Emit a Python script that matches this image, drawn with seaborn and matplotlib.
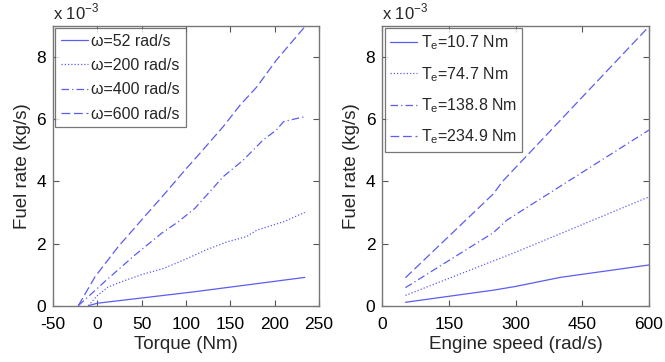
import numpy as np
import pandas as pd
import matplotlib
matplotlib.use("Agg")
import matplotlib.pyplot as plt
import seaborn as sns

# ---------------- data (fuel rate in units of 1e-3 kg/s) ----------------
# Left panel: fuel rate vs torque at constant speed
torque_w52 = [-10, 0, 110, 234]
fuel_w52 = [0.0, 0.08, 0.45, 0.91]

torque_w200 = [-10, -1, 12, 30, 50, 75, 100, 123, 146, 168, 180, 210, 234]
fuel_w200 = [0.0, 0.3, 0.6, 0.8, 1.0, 1.2, 1.5, 1.8, 2.05, 2.22, 2.43, 2.7, 3.0]

torque_w400 = [-21.5, 10.5, 42.4, 72.5, 91.3, 110, 142, 164.5, 187, 202, 210, 234]
fuel_w400 = [0.0, 0.83, 1.63, 2.33, 2.7, 3.13, 4.15, 4.68, 5.33, 5.65, 5.92, 6.08]

torque_w600 = [-21.5, -2.6, 23.6, 50, 76.3, 98.8, 115.7, 142, 161, 180, 202, 234]
fuel_w600 = [0.0, 0.93, 1.9, 2.76, 3.61, 4.36, 4.9, 5.76, 6.45, 7.04, 7.9, 8.97]

left_labels = ["ω=52 rad/s", "ω=200 rad/s", "ω=400 rad/s", "ω=600 rad/s"]

# Right panel: fuel rate vs engine speed at constant torque
speed_t1 = [52, 250, 300, 400, 600]
fuel_t1 = [0.11, 0.5, 0.62, 0.91, 1.31]

speed_t2 = [52, 300, 600]
fuel_t2 = [0.33, 1.72, 3.5]

speed_t3 = [52, 250, 280, 600]
fuel_t3 = [0.58, 2.35, 2.75, 5.65]

speed_t4 = [52, 250, 270, 600]
fuel_t4 = [0.9, 3.6, 3.99, 8.98]

right_labels = [r"T$_\mathregular{e}$=10.7 Nm", r"T$_\mathregular{e}$=74.7 Nm",
                r"T$_\mathregular{e}$=138.8 Nm", r"T$_\mathregular{e}$=234.9 Nm"]

left_xticks = [-50, 0, 50, 100, 150, 200, 250]
right_xticks = [0, 150, 300, 450, 600]
yticks = [0, 2, 4, 6, 8]

# ---------------- styling ----------------
sns.set_theme(style="white")
plt.rcParams["font.family"] = ["Liberation Sans", "DejaVu Sans"]
plt.rcParams["mathtext.fontset"] = "custom"
plt.rcParams["mathtext.rm"] = "Liberation Sans"

color = "#5c5cf0"
dash_styles = [(None, None), (1, 1.6), (6, 2.5, 1, 2.5), (7, 3)]
lw = 0.9

fig = plt.figure(figsize=(6.65, 3.62), dpi=100)
axL = fig.add_axes([0.0797, 0.1555, 0.400, 0.7732])
axR = fig.add_axes([0.5749, 0.1555, 0.4011, 0.7732])


def draw(ax, xs, ys, labels):
    for x, y, lab, ds in zip(xs, ys, labels, dash_styles):
        df = pd.DataFrame({"x": x, "y": y})
        sns.lineplot(data=df, x="x", y="y", ax=ax, color=color, linewidth=lw,
                     estimator=None, sort=False, label=lab)
        line = ax.get_lines()[-1]
        if ds[0] is None:
            line.set_linestyle("-")
        else:
            line.set_dashes(ds)


draw(axL, [torque_w52, torque_w200, torque_w400, torque_w600],
     [fuel_w52, fuel_w200, fuel_w400, fuel_w600], left_labels)
draw(axR, [speed_t1, speed_t2, speed_t3, speed_t4],
     [fuel_t1, fuel_t2, fuel_t3, fuel_t4], right_labels)

for ax, xt, xl, lsp in [(axL, left_xticks, "Torque (Nm)", 0.58),
                        (axR, right_xticks, "Engine speed (rad/s)", 0.78)]:
    ax.set_xlim(xt[0], xt[-1])
    ax.set_ylim(0, 9)
    ax.set_xticks(xt)
    ax.set_yticks(yticks)
    ax.set_xticklabels([str(v) for v in xt])
    ax.set_yticklabels([str(v) for v in yticks])
    ax.tick_params(direction="in", length=4, width=0.8, color="#555555",
                   top=True, right=True, bottom=True, left=True,
                   labelsize=12.5, labelcolor="black")
    ax.tick_params(axis="x", pad=8)
    ax.tick_params(axis="y", pad=5)
    for s in ax.spines.values():
        s.set_color("#777777")
        s.set_linewidth(1.0)
    ax.set_xlabel(xl, fontsize=13.5, labelpad=3)
    ax.set_ylabel("Fuel rate (kg/s)", fontsize=13.5, labelpad=4)
    ax.text(0.0, 1.012, r"x 10$^{\mathregular{-3}}$", transform=ax.transAxes,
            fontsize=12, ha="left", va="bottom")
    leg = ax.legend(loc="upper left", fontsize=11.5, frameon=True, fancybox=False,
                    edgecolor="#555555", handlelength=1.7, handletextpad=0.2,
                    labelspacing=lsp, borderpad=0.35, borderaxespad=0.15)
    leg.get_frame().set_linewidth(0.9)

fig.savefig("out.png", dpi=100)
